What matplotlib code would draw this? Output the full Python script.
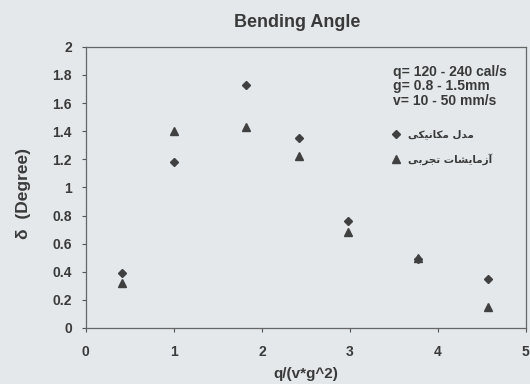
import matplotlib
matplotlib.use("Agg")
import matplotlib.pyplot as plt

# data
x_vals = [0.41, 1.0, 1.82, 2.42, 2.98, 3.77, 4.57]
model = [0.39, 1.18, 1.73, 1.35, 0.76, 0.49, 0.35]      # mechanical model
experiment = [0.32, 1.40, 1.43, 1.22, 0.68, 0.50, 0.15]  # experiments
yticks = [0, 0.2, 0.4, 0.6, 0.8, 1, 1.2, 1.4, 1.6, 1.8, 2]
ytick_labels = ["0", "0.2", "0.4", "0.6", "0.8", "1", "1.2", "1.4", "1.6", "1.8", "2"]
xticks = [0, 1, 2, 3, 4, 5]

# Persian labels, written with presentation forms (visual order) since matplotlib does no shaping
# "مدل مکانیکی"
lbl_model = "\uFBFD\uFB91\uFBFF\uFEE7\uFE8E\uFB91\uFEE3 \uFEDD\uFEAA\uFEE3"
# "آزمایشات تجربی"
lbl_exp = "\uFBFD\uFE91\uFEAE\uFEA0\uFE97 \uFE95\uFE8E\uFEB8\uFBFE\uFE8E\uFEE3\uFEAF\uFE81"

bg = "#e4e8ea"
ink = "#3a3a3a"
plt.rcParams['font.family'] = ['Liberation Sans', 'DejaVu Sans']

fig = plt.figure(figsize=(5.3, 3.84), dpi=100, facecolor=bg)
ax = fig.add_axes([0.162, 0.146, 0.830, 0.732], facecolor=bg)

ax.plot(x_vals, model, linestyle='none', marker='D', ms=4.3, color="#404040", label=lbl_model)
ax.plot(x_vals, experiment, linestyle='none', marker='^', ms=5.5, color="#404040", label=lbl_exp)

ax.set_xlim(0, 5)
ax.set_ylim(0, 2)
ax.set_xticks(xticks)
ax.set_xticklabels([str(t) for t in xticks], fontweight='bold', fontsize=10, color=ink)
ax.set_yticks(yticks)
ax.set_yticklabels(ytick_labels, fontweight='bold', fontsize=10, color=ink)
ax.tick_params(direction='out', length=3, color="#555555")
ax.tick_params(axis='x', pad=9)
ax.tick_params(axis='y', pad=7)
for s in ax.spines.values():
    s.set_color("#666666")
    s.set_linewidth(0.9)

ax.set_title("Bending Angle", fontweight='bold', fontsize=13, color=ink, pad=14, x=0.48)
ax.set_xlabel("q/(v*g^2)", fontweight='bold', fontsize=11, color=ink, labelpad=6)
ax.set_ylabel("\u03b4  (Degree)", fontweight='bold', fontsize=12.5, color=ink)
ax.yaxis.set_label_coords(-0.125, 0.48)

ax.text(0.698, 0.936, "q= 120 - 240 cal/s\ng= 0.8 - 1.5mm\nv= 10 - 50 mm/s",
        transform=ax.transAxes, fontsize=10, fontweight='bold', color=ink,
        va='top', ha='left', linespacing=1.05)

leg = ax.legend(loc='upper left', bbox_to_anchor=(0.673, 0.74), frameon=False,
                handletextpad=0.6, labelspacing=1.3, handlelength=1,
                prop={'family': 'DejaVu Sans', 'size': 7.5, 'weight': 'bold'})
for t in leg.get_texts():
    t.set_color(ink)

fig.savefig("out.png", dpi=100, facecolor=bg)
